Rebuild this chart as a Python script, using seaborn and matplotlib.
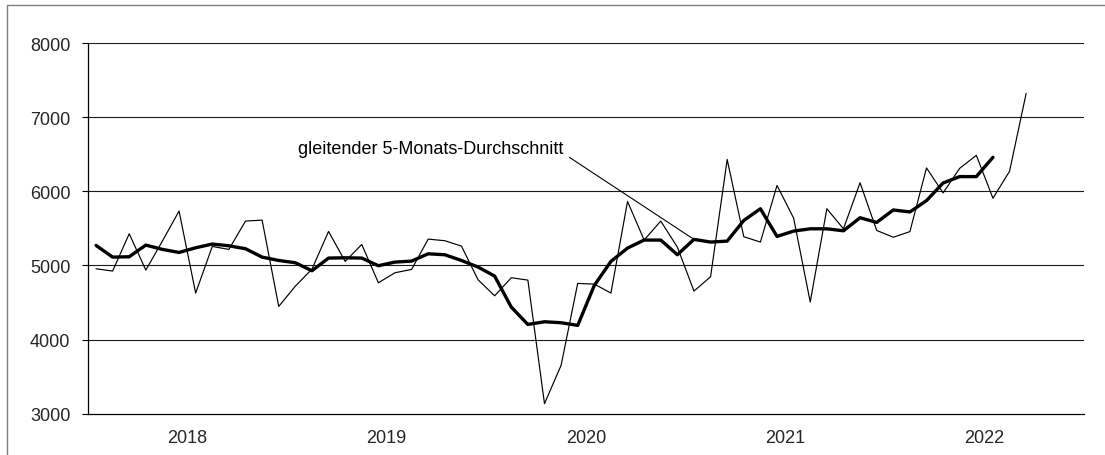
import numpy as np
import pandas as pd
import matplotlib
matplotlib.use("Agg")
import matplotlib.pyplot as plt
import matplotlib.patches as mpatches
import seaborn as sns

years = ["2018", "2019", "2020", "2021", "2022"]

monthly = [
    4955, 4924, 5427, 4937, 5330, 5733, 4627, 5256, 5216, 5598, 5611, 4447,
    4720, 4950, 5458, 5054, 5283, 4766, 4901, 4946, 5355, 5333, 5261, 4807,
    4590, 4834, 4802, 3135, 3652, 4757, 4748, 4627, 5863, 5342, 5598, 5247,
    4654, 4847, 6429, 5387, 5315, 6079, 5638, 4506, 5764, 5494, 6115, 5472,
    5380, 5456, 6315, 5978, 6310, 6485, 5906, 6270, 7321,
]

moving_avg = [
    5270, 5112, 5117, 5274, 5216, 5175, 5238, 5288, 5265, 5225, 5112, 5067,
    5036, 4928, 5099, 5103, 5099, 4996, 5045, 5058, 5157, 5144, 5067, 4978,
    4856, 4438, 4204, 4240, 4227, 4191, 4730, 5054, 5234, 5342, 5342, 5144,
    5351, 5315, 5328, 5607, 5764, 5391, 5463, 5494, 5494, 5467, 5643, 5580,
    5748, 5721, 5874, 6112, 6198, 6198, 6458,
]

y_ticks = [3000, 4000, 5000, 6000, 7000, 8000]
annotation_text = "gleitender 5-Monats-Durchschnitt"

sns.set_theme(style="white")
plt.rcParams["font.family"] = ["Liberation Sans", "DejaVu Sans"]

df_m = pd.DataFrame({"x": np.arange(len(monthly)), "v": monthly})
df_a = pd.DataFrame({"x": np.arange(len(moving_avg)), "v": moving_avg})

fig = plt.figure(figsize=(11.05, 4.56), dpi=100)
ax = fig.add_axes([87.7 / 1105, 1 - 414.7 / 456, (1084.3 - 87.7) / 1105, (414.7 - 44) / 456])

# figure frame
fig.patches.append(mpatches.Rectangle((7 / 1105, -0.1), 1.2, 1.1 - 6 / 456,
                                      transform=fig.transFigure, fill=False,
                                      edgecolor="#7f7f7f", linewidth=1.0))

for yv in y_ticks[1:]:
    ax.axhline(yv, color="#1a1a1a", lw=0.8, zorder=1)

sns.lineplot(data=df_m, x="x", y="v", ax=ax, color="black", lw=0.85, zorder=3)
sns.lineplot(data=df_a, x="x", y="v", ax=ax, color="black", lw=2.4, zorder=4)

n_months = 12 * len(years)
ax.set_xlim(-0.5, n_months - 0.5)
ax.set_ylim(y_ticks[0], y_ticks[-1])
ax.set_yticks(y_ticks)
ax.set_yticklabels([str(v) for v in y_ticks], fontsize=13)

ax.set_xticks([12 * i - 0.5 for i in range(len(years) + 1)])
ax.set_xticklabels([])
ax.set_xticks([12 * i + 5.5 for i in range(len(years))], minor=True)
ax.set_xticklabels(years, minor=True, fontsize=13)
ax.tick_params(axis="x", which="major", direction="inout", length=8, width=0.8, color="black")
ax.tick_params(axis="x", which="minor", length=0, pad=11)
ax.tick_params(axis="y", direction="out", length=4.5, width=0.8, color="black", pad=8, left=True)

ax.set_xlabel("")
ax.set_ylabel("")
for s in ["top", "right"]:
    ax.spines[s].set_visible(False)
for s in ["left", "bottom"]:
    ax.spines[s].set_color("black")
    ax.spines[s].set_linewidth(0.9)
ax.set_facecolor("white")
ax.grid(False)

ax.text(28.15, 6516, annotation_text, ha="right", va="baseline", fontsize=13, color="black")
ax.annotate("", xy=(36, moving_avg[36]), xytext=(28.5, 6458),
            arrowprops=dict(arrowstyle="-", lw=0.8, color="black", shrinkA=0, shrinkB=0))

fig.savefig("out.png", dpi=100, facecolor="white")
